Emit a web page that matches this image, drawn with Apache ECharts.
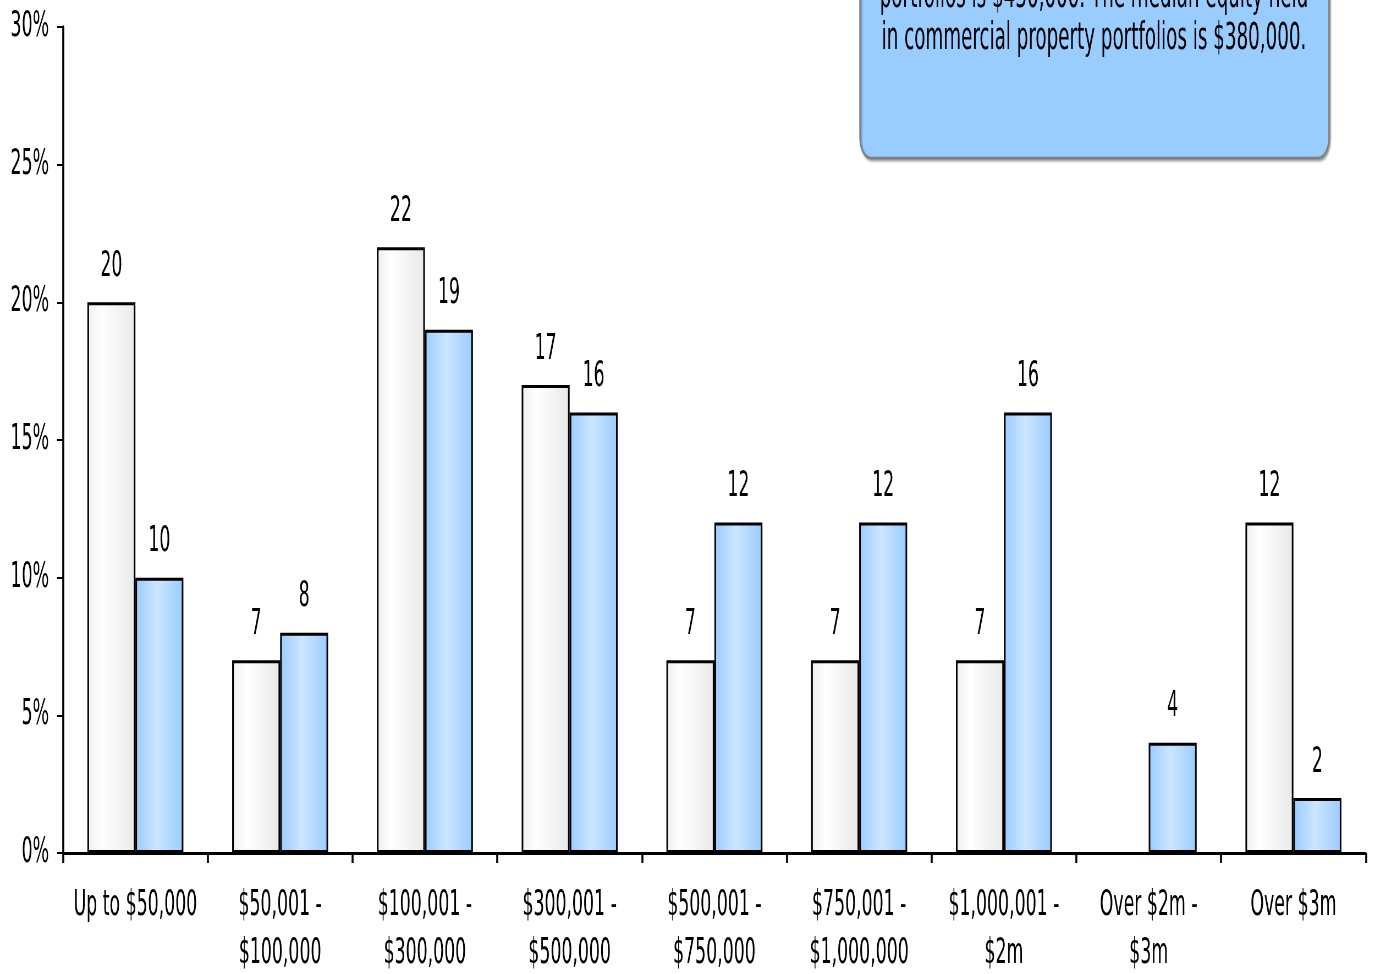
<!DOCTYPE html>
<html>
<head>
<meta charset="utf-8">
<script src="https://cdn.jsdelivr.net/npm/echarts@6/dist/echarts.min.js"></script>
<style>
html,body{margin:0;padding:0;background:#fff;overflow:hidden;}
#wrap{width:1373px;height:974px;overflow:hidden;position:relative;}
#chart{width:2496px;height:974px;transform:scaleX(0.55);transform-origin:0 0;position:absolute;left:0;top:0;}
</style>
</head>
<body>
<div id="wrap"><div id="chart"></div></div>
<script>
const categories = ['Up to $50,000', '$50,001 -\n$100,000', '$100,001 -\n$300,000', '$300,001 -\n$500,000', '$500,001 -\n$750,000', '$750,001 -\n$1,000,000', '$1,000,001 -\n$2m', 'Over $2m -\n$3m', 'Over $3m'];
const seriesA = [20, 7, 22, 17, 7, 7, 7, null, 12];
const seriesB = [10, 8, 19, 16, 12, 12, 16, 4, 2];
const yTicks = { min: 0, max: 30, interval: 5 };
const noteLines = ['portfolios is $430,000. The median equity held', 'in commercial property portfolios is $380,000.'];

// The whole chart is drawn on a wider canvas and squeezed horizontally (condensed typeface look).
const SX = 0.55;
const px = v => v / SX; // convert screen-horizontal pixels to canvas pixels

const FONT = '"DejaVu Sans Condensed", "DejaVu Sans", sans-serif';
const FS = 35;
const chart = echarts.init(document.getElementById('chart'), null, { renderer: 'canvas', width: 2496, height: 974 });

const whiteGrad = new echarts.graphic.LinearGradient(0, 0, 1, 0, [
  { offset: 0, color: '#efefef' },
  { offset: 0.3, color: '#ffffff' },
  { offset: 1, color: '#e9e9e9' }
]);
const blueGrad = new echarts.graphic.LinearGradient(0, 0, 1, 0, [
  { offset: 0, color: '#99ccff' },
  { offset: 0.45, color: '#cde6ff' },
  { offset: 1, color: '#99ccff' }
]);

const labelCfg = {
  show: true,
  position: 'top',
  distance: 18,
  fontFamily: FONT,
  fontSize: FS,
  color: '#000'
};

chart.setOption({
  animation: false,
  backgroundColor: '#fff',
  grid: { left: px(63), right: px(7), top: 27, bottom: 121, containLabel: false, outerBoundsMode: 'none' },
  xAxis: {
    type: 'category',
    data: categories,
    axisLine: { show: true, lineStyle: { color: '#000', width: 3 } },
    axisTick: { show: true, length: 10, lineStyle: { color: '#000', width: px(2) } },
    axisLabel: { fontFamily: FONT, fontSize: FS, color: '#000', margin: 29, lineHeight: 48, interval: 0 }
  },
  yAxis: {
    type: 'value',
    min: yTicks.min,
    max: yTicks.max,
    interval: yTicks.interval,
    splitLine: { show: false },
    axisLine: { show: true, lineStyle: { color: '#000', width: px(2) } },
    axisTick: { show: true, length: px(6), lineStyle: { color: '#000', width: 2 } },
    axisLabel: { fontFamily: FONT, fontSize: FS, color: '#000', margin: px(14), formatter: '{value}%' }
  },
  series: [
    {
      type: 'bar',
      data: seriesA,
      barWidth: px(48),
      barGap: '0%',
      itemStyle: { color: whiteGrad, borderColor: '#000', borderWidth: 3 },
      label: labelCfg
    },
    {
      type: 'bar',
      data: seriesB,
      barWidth: px(48),
      barGap: '0%',
      itemStyle: { color: blueGrad, borderColor: '#000', borderWidth: 3 },
      label: labelCfg
    }
  ],
  graphic: [
    {
      type: 'rect',
      shape: { x: px(860), y: -60, width: px(469), height: 218, r: 20 },
      style: { fill: '#99ccff', stroke: '#7f7f7f', lineWidth: 2.5, shadowBlur: 3, shadowOffsetX: 2, shadowOffsetY: 2, shadowColor: 'rgba(0,0,0,0.35)' },
      z: 10
    },
    {
      type: 'text',
      x: px(1094),
      y: -3,
      style: { text: noteLines[0], fontFamily: FONT, fontSize: 37, fill: '#000', align: 'center', verticalAlign: 'middle' },
      z: 11
    },
    {
      type: 'text',
      x: px(1094),
      y: 39,
      style: { text: noteLines[1], fontFamily: FONT, fontSize: 37, fill: '#000', align: 'center', verticalAlign: 'middle' },
      z: 11
    }
  ]
});
</script>
</body>
</html>
